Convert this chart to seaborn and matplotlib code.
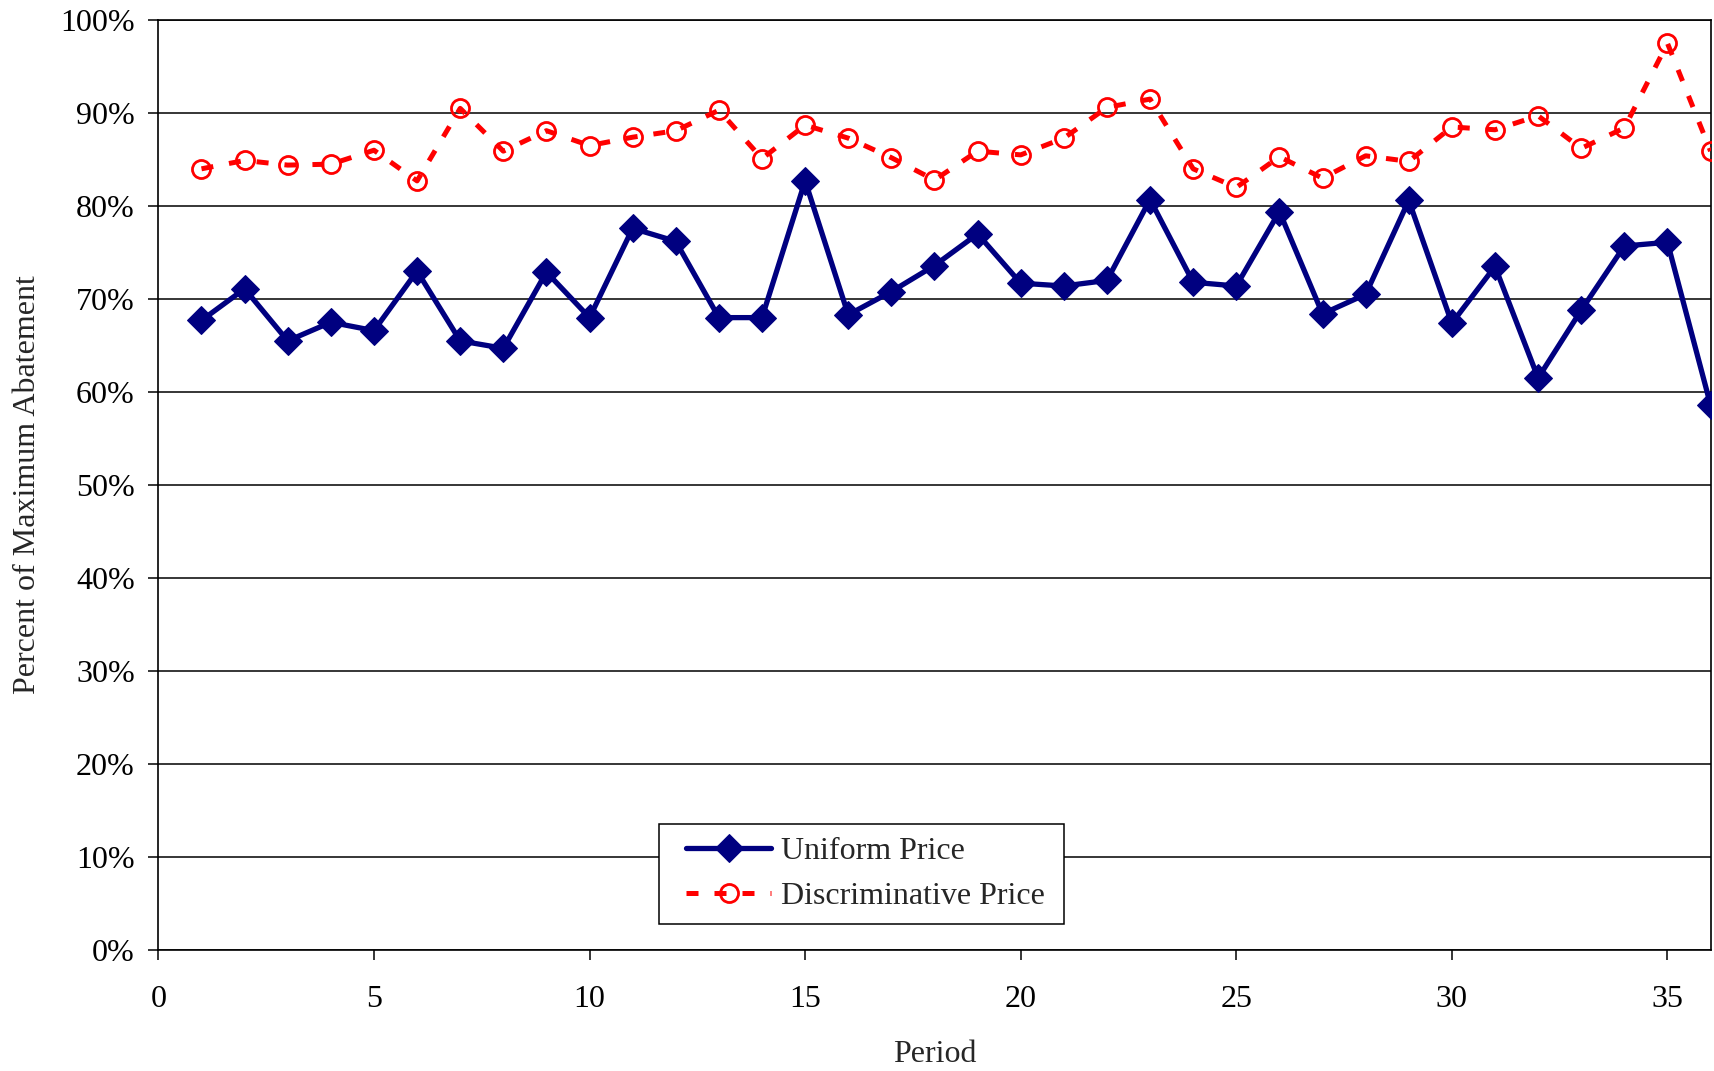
import numpy as np
import pandas as pd
import seaborn as sns
import matplotlib.pyplot as plt
from matplotlib.ticker import FuncFormatter, MultipleLocator
from matplotlib.legend_handler import HandlerLine2D

# data (percent of maximum abatement)
period = list(range(1, 37))
uniform = [67.7, 71.1, 65.5, 67.5, 66.6, 73.0, 65.5, 64.7, 72.9, 68.0,
           77.6, 76.2, 68.0, 68.0, 82.7, 68.3, 70.8, 73.6, 77.0, 71.7,
           71.4, 72.0, 80.7, 71.8, 71.4, 79.4, 68.4, 70.5, 80.6, 67.4,
           73.5, 61.5, 68.8, 75.7, 76.1, 58.6]
discrim = [84.0, 84.9, 84.4, 84.5, 86.0, 82.7, 90.5, 85.9, 88.1, 86.5,
           87.4, 88.1, 90.3, 85.1, 88.7, 87.3, 85.2, 82.8, 85.9, 85.5,
           87.3, 90.6, 91.5, 84.0, 82.0, 85.3, 83.0, 85.4, 84.8, 88.5,
           88.2, 89.7, 86.2, 88.4, 97.5, 85.9]

df = pd.DataFrame({'Period': period, 'Uniform': uniform, 'Discrim': discrim})

sns.set_style('white')
plt.rcParams['font.family'] = ['Liberation Serif', 'DejaVu Serif']
fs = 23

fig = plt.figure(figsize=(17.14, 10.71), dpi=100)
ax = fig.add_axes([0.0924, 0.113, 0.9056, 0.8683])

sns.lineplot(data=df, x='Period', y='Uniform', ax=ax, color='#000080',
             linewidth=3.8, marker='D', markersize=14, markeredgecolor='#000080',
             label='Uniform Price', zorder=3)
sns.lineplot(data=df, x='Period', y='Discrim', ax=ax, color='#FF0000',
             linewidth=3.6, linestyle=(0, (2.4, 3.2)), marker='o', markersize=13,
             markerfacecolor='none', markeredgecolor='#FF0000', markeredgewidth=2,
             label='Discriminative Price', zorder=3)

ax.set_xlim(0, 36)
ax.set_ylim(0, 100)
ax.xaxis.set_major_locator(MultipleLocator(5))
ax.yaxis.set_major_locator(MultipleLocator(10))
ax.yaxis.set_major_formatter(FuncFormatter(lambda v, p: '%d%%' % v))
ax.yaxis.grid(True, color='black', linewidth=1.1)
ax.set_axisbelow(True)

for s in ax.spines.values():
    s.set_color('black')
    s.set_linewidth(1.2)

ax.tick_params(axis='both', direction='out', length=7, width=1.1, color='black',
               labelsize=fs, labelcolor='black')
ax.tick_params(axis='x', pad=18, bottom=True)
ax.tick_params(axis='y', pad=10, left=True)

ax.set_xlabel('Period', fontsize=fs, labelpad=19)
ax.set_ylabel('Percent of Maximum Abatement', fontsize=fs, labelpad=13)

# legend handles pushed right a little, like the original box
hmap = {ln: HandlerLine2D(xpad=0.45) for ln in ax.get_lines()}
leg = ax.legend(loc='lower left', bbox_to_anchor=(0.3845, 0.137, 0.236, 0.089),
                bbox_transform=fig.transFigure, mode='expand', fontsize=fs,
                frameon=True, fancybox=False, framealpha=1, edgecolor='black',
                handlelength=3.1, borderaxespad=0, borderpad=0.4, labelspacing=0.5,
                handletextpad=0.32, handler_map=hmap)
leg.get_frame().set_linewidth(1.1)

plt.savefig('out.png', dpi=100)
